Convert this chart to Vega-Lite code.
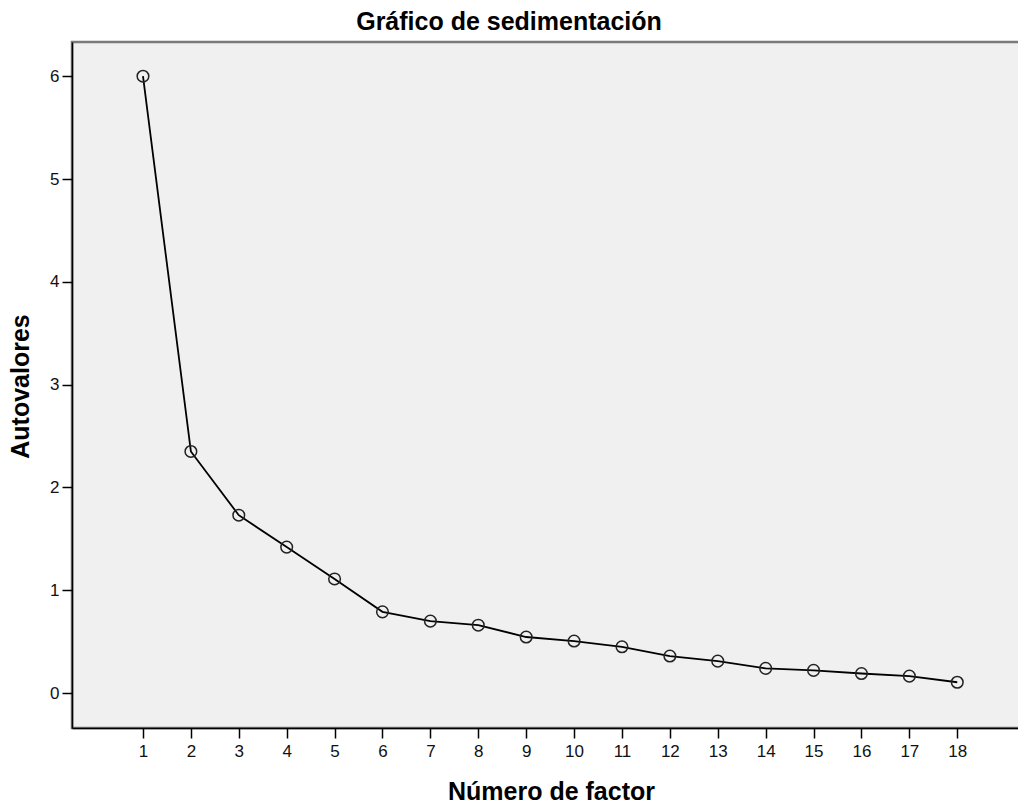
{
  "$schema": "https://vega.github.io/schema/vega-lite/v6.json",
  "autosize": "none",
  "width": 948,
  "height": 686,
  "padding": {"left": 72, "top": 42, "right": 0, "bottom": 75},
  "background": "white",
  "title": {
    "text": "Gráfico de sedimentación",
    "font": "Liberation Sans",
    "fontSize": 25,
    "fontWeight": "bold",
    "color": "#000000",
    "anchor": "middle",
    "baseline": "alphabetic",
    "offset": 12,
    "dx": -37,
    "dy": 25
  },
  "config": {
    "view": {"fill": "#f0f0f0", "stroke": "#7a7a7a", "strokeWidth": 2.5},
    "axis": {
      "domainColor": "#000000",
      "domainWidth": 1.5,
      "tickColor": "#000000",
      "tickWidth": 1.5,
      "tickSize": 10,
      "labelFont": "Liberation Sans",
      "labelFontSize": 17,
      "labelColor": "#111111",
      "titleFont": "Liberation Sans",
      "titleFontSize": 25,
      "titleFontWeight": "bold",
      "titleColor": "#000000",
      "grid": false
    }
  },
  "data": {
    "values": [
      {"factor": 1, "autovalor": 6.0},
      {"factor": 2, "autovalor": 2.35},
      {"factor": 3, "autovalor": 1.73},
      {"factor": 4, "autovalor": 1.42},
      {"factor": 5, "autovalor": 1.11},
      {"factor": 6, "autovalor": 0.79},
      {"factor": 7, "autovalor": 0.70},
      {"factor": 8, "autovalor": 0.66},
      {"factor": 9, "autovalor": 0.545},
      {"factor": 10, "autovalor": 0.506},
      {"factor": 11, "autovalor": 0.45},
      {"factor": 12, "autovalor": 0.36},
      {"factor": 13, "autovalor": 0.31},
      {"factor": 14, "autovalor": 0.24},
      {"factor": 15, "autovalor": 0.22},
      {"factor": 16, "autovalor": 0.19},
      {"factor": 17, "autovalor": 0.165},
      {"factor": 18, "autovalor": 0.105}
    ]
  },
  "encoding": {
    "x": {
      "field": "factor",
      "type": "quantitative",
      "scale": {"domain": [-0.482, 19.31], "nice": false, "zero": false},
      "axis": {
        "title": "Número de factor",
        "values": [1,2,3,4,5,6,7,8,9,10,11,12,13,14,15,16,17,18],
        "labelPadding": 5,
        "labelFlush": false,
        "titleX": 479,
        "titleY": 71,
        "titleBaseline": "alphabetic",
        "titleAnchor": "middle"
      }
    },
    "y": {
      "field": "autovalor",
      "type": "quantitative",
      "scale": {"domain": [-0.34, 6.333], "nice": false, "zero": false},
      "axis": {
        "title": "Autovalores",
        "values": [0,1,2,3,4,5,6],
        "labelPadding": 3,
        "labelFlush": false,
        "titleX": -44,
        "titleY": 344,
        "titleBaseline": "alphabetic",
        "titleAnchor": "middle"
      }
    }
  },
  "layer": [
    {"mark": {"type": "line", "color": "#000000", "strokeWidth": 1.8}},
    {"mark": {"type": "point", "shape": "circle", "filled": false, "size": 135, "stroke": "#222222", "strokeWidth": 1.5, "opacity": 1}}
  ]
}
